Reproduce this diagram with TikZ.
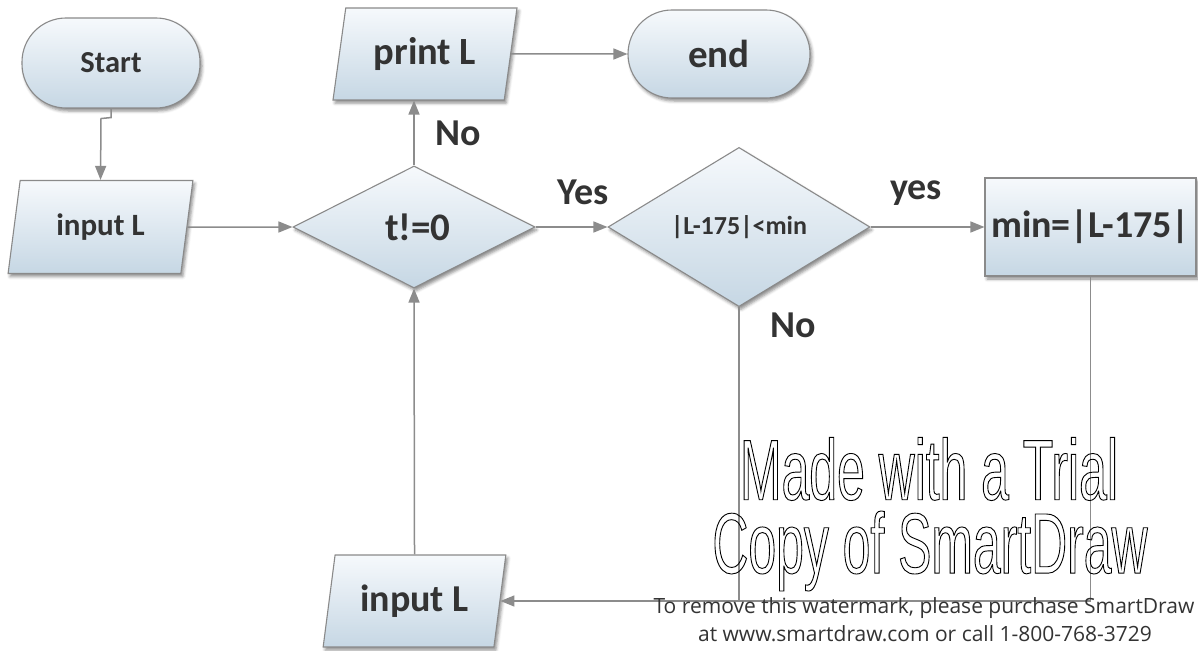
\documentclass[tikz,border=0pt]{standalone}
\usepackage{fontspec}
\setmainfont{Carlito}
\newfontfamily\wmfont[FakeStretch=0.58]{Liberation Sans}
\newfontfamily\smallwm{Open Sans}
\newcommand{\outlinetext}[1]{\special{pdf:literal direct 1 Tr 0.9 w 0 0 0 RG}#1\special{pdf:literal direct 0 Tr}}
\usetikzlibrary{shapes.geometric,shapes.misc,arrows.meta,shadows.blur}
\definecolor{edgegray}{HTML}{8A8A8A}
\definecolor{linegray}{HTML}{8C8C8C}
\definecolor{txt}{HTML}{333333}
\definecolor{ftop}{HTML}{F6F9FC}
\definecolor{fbot}{HTML}{C6D7E4}
\tikzset{
  box/.style={draw=edgegray, line width=1.1pt, top color=ftop, bottom color=fbot,
    text=txt, font=\bfseries, inner sep=0pt,
    blur shadow={shadow xshift=2pt, shadow yshift=-3pt, shadow blur radius=3pt, shadow opacity=45}},
  term/.style={box, rounded corners=44pt},
  io/.style={box, shape=trapezium, trapezium left angle=76, trapezium right angle=104, trapezium stretches=true},
  dec/.style={box, shape=diamond},
  proc/.style={box, shape=rectangle},
  conn/.style={draw=linegray, line width=1.5pt},
  arr/.style={conn, -{Triangle[length=14pt,width=11pt]}},
  lbl/.style={text=txt, font=\bfseries\fontsize{38}{40}\selectfont, inner sep=0pt},
  wm/.style={inner sep=0pt, text=black},
}
\begin{document}
\begin{tikzpicture}[x=1pt,y=-1pt]
\useasboundingbox (0,0) rectangle (1198,650);
% nodes
\node[term, minimum width=178pt, minimum height=90pt, font=\bfseries\fontsize{30.5}{32}\selectfont] (start) at (111,63) {Start};
\node[io, minimum width=185pt, minimum height=93pt, font=\bfseries\fontsize{31}{33}\selectfont] (in1) at (100.5,227) {input L};
\node[dec, minimum width=242pt, minimum height=122pt, font=\bfseries\fontsize{39}{41}\selectfont] (d1) at (414,227) {\hspace*{8pt}t!=0};
\node[io, minimum width=184pt, minimum height=92pt, font=\bfseries\fontsize{38.5}{40}\selectfont] (pl) at (425,54) {print L};
\node[term, minimum width=182pt, minimum height=88pt, font=\bfseries\fontsize{39}{41}\selectfont] (end) at (719,54) {end};
\node[dec, minimum width=262pt, minimum height=129pt, font=\bfseries\fontsize{26}{28}\selectfont] (d2) at (739,227) {|L-175|<min};
\node[proc, minimum width=211pt, minimum height=98pt, font=\bfseries\fontsize{38}{40}\selectfont] (mr) at (1090.5,227) {min=|L-175|};
\node[io, minimum width=183pt, minimum height=92pt, font=\bfseries\fontsize{38}{40}\selectfont] (in2) at (414.5,601) {input L};
% connectors
\draw[arr] (start.south) -- ++(0,9) -- ++(-10,1) -- (in1.north);
\draw[arr] (in1.east) -- (d1.west);
\draw[arr] (d1.north) -- (d1.north |- pl.south);
\draw[arr] (pl.east) -- (end.west);
\draw[arr] (d1.east) -- (d2.west);
\draw[arr] (d2.east) -- (mr.west);
\draw[arr] (mr.south) |- (in2.east);
\draw[conn] (d2.south) -- (d2.south |- in2.east);
\draw[arr] (in2.north) -- (d1.south);
% labels
\node[lbl] (lno1) at (458,133) {No};
\node[lbl] (lyes1) at (583,192) {Yes};
\node[lbl] (lyes2) at (916,193) {yes};
\node[lbl] (lno2) at (793,325) {No};
% watermark
\node[wm, font=\wmfont\fontsize{86}{88}\selectfont] (wm1) at (929,469) {\outlinetext{Made with a Trial}};
\node[wm, font=\wmfont\fontsize{86}{88}\selectfont] (wm2) at (930,551) {\outlinetext{Copy of SmartDraw}};
\node[wm, text=txt, font=\smallwm\fontsize{21}{23}\selectfont] (wm3) at (924,608) {To remove this watermark, please purchase SmartDraw};
\node[wm, text=txt, font=\smallwm\fontsize{21}{23}\selectfont] (wm4) at (925,634) {at www.smartdraw.com or call 1-800-768-3729};
\end{tikzpicture}
\end{document}
